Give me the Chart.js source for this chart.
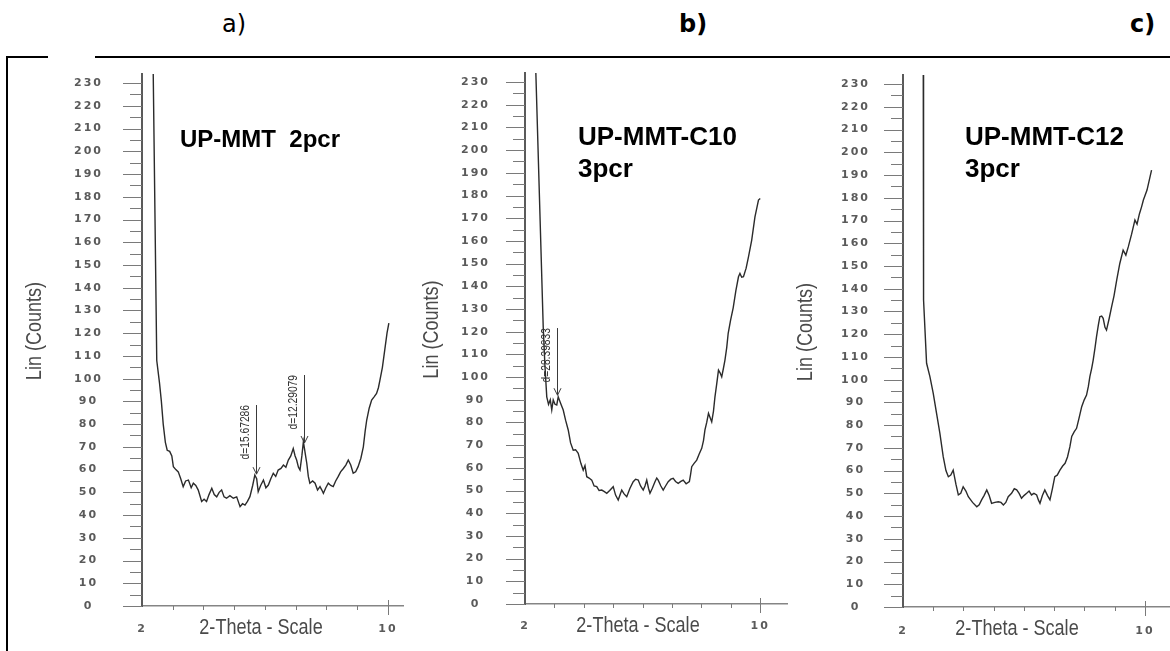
<!DOCTYPE html>
<html>
<head>
<meta charset="utf-8">
<title>XRD UP-MMT</title>
<script src="https://cdn.jsdelivr.net/npm/chart.js@4.4.1/dist/chart.umd.min.js"></script>
<style>
    html, body { margin: 0; padding: 0; background: #fff; }
    body { position: relative; width: 1170px; height: 651px; overflow: hidden; }
    canvas { position: absolute; top: 60px; }
    #chartA { left: 10px; }
    #chartB { left: 405px; }
    #chartC { left: 790px; }
    .frame { position: absolute; background: #000; }
    .tag { position: absolute; top: 12px; font: 24px/24px "DejaVu Sans", sans-serif; color: #000; }
</style>
</head>
<body>
<div class="frame" style="left:7px; top:56px; width:41px; height:2px;"></div>
<div class="frame" style="left:95px; top:56px; width:1075px; height:2px;"></div>
<div class="frame" style="left:6px; top:56px; width:2px; height:595px;"></div>
<div class="tag" style="left:222px;">a)</div>
<div class="tag" style="left:679px; font-weight:bold;">b)</div>
<div class="tag" style="left:1130px; font-weight:bold;">c)</div>

<canvas id="chartA" width="395" height="591"></canvas>
<canvas id="chartB" width="385" height="591"></canvas>
<canvas id="chartC" width="380" height="591"></canvas>

<script>
// 2-theta (deg) and intensity (counts)
const thetaA = [2.36, 2.48, 2.57, 2.63, 2.69, 2.76, 2.82, 2.90, 2.97, 3.02, 3.10, 3.18, 3.26, 3.34, 3.42, 3.51, 3.60, 3.67, 3.75, 3.83,
    3.94, 4.02, 4.10, 4.18, 4.27, 4.35, 4.43, 4.51, 4.59, 4.67, 4.75, 4.86, 4.97, 5.08, 5.19, 5.27, 5.35, 5.43, 5.51, 5.60,
    5.67, 5.73, 5.78, 5.86, 5.95, 6.03, 6.11, 6.19, 6.27, 6.35, 6.43, 6.52, 6.60, 6.68, 6.76, 6.84, 6.92, 6.98, 7.03, 7.09,
    7.14, 7.20, 7.25, 7.31, 7.36, 7.41, 7.46, 7.55, 7.63, 7.71, 7.79, 7.85, 7.90, 7.98, 8.06, 8.14, 8.22, 8.30, 8.38, 8.46,
    8.55, 8.63, 8.71, 8.79, 8.87, 8.95, 9.03, 9.12, 9.20, 9.26, 9.31, 9.39, 9.47, 9.55, 9.63, 9.69, 9.74, 9.82, 9.90, 9.97, 10.03];
const countsA = [240, 108, 98, 90, 80, 72, 68.5, 68, 66, 61.3, 60, 59, 56, 52.5, 55, 55.4, 52, 54, 53, 51,
    46, 47, 46, 49, 51.8, 49, 48, 50, 51, 48, 47.4, 48.5, 47.4, 48, 43.7, 45, 44.4, 46, 48.1, 53,
    57.6, 56, 50.3, 53, 55.4, 52, 53.2, 56, 58.4, 57, 59.8, 60.5, 62, 61, 64.2, 66, 69.3, 66, 64.2, 61,
    59.8, 66, 72.3, 67, 62.8, 57, 54, 55, 54, 51, 52.5, 51, 49.6, 52, 54, 53, 52.5, 55, 56.9, 59,
    60.5, 62, 64.2, 62, 58.4, 59, 61.3, 65, 70, 77, 81.8, 87, 90.6, 92, 93.5, 96, 99.4, 105, 113, 120, 124.4];

const thetaB = [2.36, 2.62, 2.68, 2.74, 2.80, 2.86, 2.91, 2.96, 3.02, 3.08, 3.13, 3.21, 3.30, 3.38, 3.47, 3.55, 3.64, 3.72, 3.81, 3.90,
    3.98, 4.04, 4.10, 4.18, 4.27, 4.35, 4.44, 4.52, 4.61, 4.70, 4.78, 4.88, 5.00, 5.08, 5.17, 5.23, 5.29, 5.37, 5.46, 5.57,
    5.68, 5.76, 5.85, 5.93, 6.02, 6.08, 6.14, 6.20, 6.25, 6.33, 6.42, 6.48, 6.53, 6.62, 6.70, 6.78, 6.87, 6.96, 7.04, 7.12,
    7.21, 7.30, 7.38, 7.48, 7.59, 7.63, 7.67, 7.75, 7.84, 7.92, 8.01, 8.07, 8.12, 8.18, 8.24, 8.30, 8.35, 8.41, 8.46, 8.52,
    8.58, 8.63, 8.69, 8.75, 8.80, 8.86, 8.91, 8.99, 9.08, 9.17, 9.26, 9.31, 9.37, 9.43, 9.52, 9.60, 9.71, 9.82, 9.94, 10.00];
const countsB = [238, 122, 104.5, 91.3, 88, 90, 85.5, 89.9, 88, 87.7, 91.3, 88.5, 85.5, 81, 76.7, 71, 67.8, 68, 66.4, 62,
    59, 61, 56.1, 55.5, 54.6, 52, 51.7, 50, 50.2, 49.5, 48.8, 50, 51.7, 48, 45.8, 48, 50.2, 48.5, 47.3, 51,
    53.9, 55, 54.6, 52, 50.2, 52, 54.6, 51, 48.8, 51, 53.9, 55.5, 54.6, 52, 50.2, 52, 53.9, 55, 55.4, 54,
    53.2, 54, 54.6, 53, 53.9, 57, 60.5, 62, 63.4, 66, 68.6, 72, 76.7, 80, 84, 82, 80.3, 85, 91.3, 97,
    103.1, 102, 100.1, 104, 107.5, 113, 119.3, 125, 130.5, 138, 144.2, 145.7, 144, 144.2, 148, 153, 160.4, 170.6, 178, 178.7];

const thetaC = [2.67, 2.67, 2.69, 2.78, 2.89, 3.00, 3.11, 3.22, 3.33, 3.42, 3.50, 3.58, 3.66, 3.75, 3.83, 3.91, 3.99, 4.08, 4.16, 4.30,
    4.44, 4.52, 4.60, 4.68, 4.77, 4.85, 4.93, 5.04, 5.15, 5.24, 5.32, 5.40, 5.48, 5.59, 5.68, 5.76, 5.84, 5.92, 6.00, 6.09,
    6.17, 6.25, 6.33, 6.42, 6.48, 6.53, 6.61, 6.69, 6.78, 6.86, 6.94, 7.02, 7.10, 7.19, 7.28, 7.36, 7.44, 7.52, 7.58, 7.66,
    7.74, 7.82, 7.91, 7.99, 8.07, 8.13, 8.18, 8.24, 8.29, 8.35, 8.40, 8.46, 8.51, 8.57, 8.62, 8.68, 8.73, 8.82, 8.90, 8.98,
    9.07, 9.17, 9.28, 9.37, 9.45, 9.56, 9.67, 9.74, 9.82, 9.89, 9.95, 10.07, 10.22];
const countsC = [238, 170, 135, 107.2, 101.3, 94, 85.2, 76.4, 66.1, 60, 57.3, 58, 60.2, 54, 49.3, 50, 52.9, 51, 48.5, 46,
    44.1, 45, 47.1, 49, 51.5, 49, 45.6, 46, 46.3, 46, 44.9, 46, 48.5, 50, 52, 51.5, 50, 47.8, 49, 50,
    51, 49.3, 50, 49.3, 47, 45.6, 49, 51.5, 49, 47.1, 52, 57.3, 58, 60.2, 62, 63.2, 66, 70.5, 75, 77,
    78.6, 83, 88.1, 91, 93.2, 97, 101.3, 105, 108.6, 114, 118.9, 124, 127.7, 128, 127, 123, 121.8, 127, 132.1, 137,
    144, 151.1, 157, 154.8, 158.4, 164, 170.2, 168.4, 173, 176, 179, 183.4, 192.2];

// marked reflections: 2-theta, arrow tip, line top (counts), label
const peaksA = [
    { theta: 5.71, tip: 58, top: 88.4, label: 'd=15.67286' },
    { theta: 7.27, tip: 71.7, top: 101.6, label: 'd=12.29079' }
];
const peaksB = [
    { theta: 3.09, tip: 92, top: 121.6, label: 'd=28.39833' }
];
const peaksC = [];

const xTickLabels = [2, 10];
const yMaxLabel = 230;

// Arial-Narrow look: Liberation Sans squeezed horizontally
function narrowText(ctx, text, x, y, size, align, angle) {
    ctx.save();
    ctx.translate(x, y);
    if (angle) ctx.rotate(angle);
    ctx.scale(0.82, 1);
    ctx.font = size + 'px "Liberation Sans", Arial, sans-serif';
    ctx.textAlign = align;
    ctx.textBaseline = 'middle';
    ctx.fillText(text, 0, 0);
    ctx.restore();
}

// extra marks drawn with the chart scales: minor ticks, sample name, arrows, axis titles
const panelDecor = {
    id: 'panelDecor',
    beforeDraw(chart) {
        chart.ctx.letterSpacing = '2px';
    },
    afterDraw(chart, args, opts) {
        const { ctx, chartArea: area } = chart;
        const x = chart.scales.x, y = chart.scales.y;
        ctx.letterSpacing = '0px';
        ctx.save();

        ctx.strokeStyle = '#7a7a7a';
        ctx.lineWidth = 1;
        for (let v = 0; v <= yMaxLabel; v += 5) {
            const py = Math.round(y.getPixelForValue(v)) + 0.5;
            const len = v % 10 === 0 ? 19 : 12;
            ctx.beginPath();
            ctx.moveTo(area.left - len, py);
            ctx.lineTo(area.left, py);
            ctx.stroke();
        }
        for (let v = 3; v <= 10; v++) {
            const px = Math.round(x.getPixelForValue(v)) + 0.5;
            ctx.beginPath();
            ctx.moveTo(px, v === 10 ? area.bottom - 6 : area.bottom);
            ctx.lineTo(px, area.bottom + (v === 10 ? 9 : 4));
            ctx.stroke();
        }

        // sample name
        ctx.fillStyle = '#000';
        ctx.font = 'bold ' + opts.nameSize + 'px "Liberation Sans", Arial, sans-serif';
        ctx.textAlign = 'left';
        ctx.textBaseline = 'alphabetic';
        opts.name.forEach(function(line, i) {
            ctx.fillText(line, area.left + opts.nameX, area.top + opts.nameY + i * 32);
        });

        // axis titles
        ctx.fillStyle = '#4a4a4a';
        narrowText(ctx, '2-Theta - Scale', area.left + opts.titleX, area.bottom + 22, 22, 'center', 0);
        narrowText(ctx, 'Lin (Counts)', area.left - opts.yTitleX, (area.top + area.bottom) / 2 - 9, 22, 'center', -Math.PI / 2);

        // peak markers
        ctx.strokeStyle = '#3a3a3a';
        ctx.fillStyle = '#333';
        opts.peaks.forEach(function(p) {
            const px = Math.round(x.getPixelForValue(p.theta)) + 0.5;
            const yTop = y.getPixelForValue(p.top);
            const yTip = y.getPixelForValue(p.tip);
            ctx.beginPath();
            ctx.moveTo(px, yTop);
            ctx.lineTo(px, yTip);
            ctx.moveTo(px - 3.5, yTip - 7);
            ctx.lineTo(px, yTip);
            ctx.lineTo(px + 3.5, yTip - 7);
            ctx.stroke();
            narrowText(ctx, p.label, px - 11, yTop, 12.5, 'right', -Math.PI / 2);
        });
        ctx.restore();
    }
};

function makePanel(id, theta, counts, cfg) {
    const points = theta.map(function(t, i) { return { x: t, y: counts[i] }; });
    return new Chart(document.getElementById(id), {
        type: 'line',
        data: {
            datasets: [{
                data: points,
                borderColor: '#2b2b2b',
                borderWidth: 1.4,
                pointRadius: 0,
                tension: 0,
                fill: false
            }]
        },
        options: {
            responsive: false,
            animation: false,
            events: [],
            layout: { padding: { left: 0, right: cfg.padRight, top: cfg.padTop, bottom: 0 } },
            plugins: {
                legend: { display: false },
                tooltip: { enabled: false },
                title: { display: false },
                panelDecor: {
                    name: cfg.name,
                    nameSize: cfg.nameSize,
                    nameX: cfg.nameX,
                    nameY: cfg.nameY,
                    titleX: cfg.titleX,
                    yTitleX: cfg.yTitleX,
                    peaks: cfg.peaks
                }
            },
            scales: {
                x: {
                    type: 'linear',
                    min: 2,
                    max: cfg.xMax,
                    afterFit: function(scale) { scale.height = cfg.xAxisH; },
                    border: { display: true, color: '#858585', width: 1.5 },
                    grid: { display: true, drawOnChartArea: false, drawTicks: true, tickLength: cfg.xLabelGap, color: 'rgba(0,0,0,0)' },
                    ticks: {
                        stepSize: 1,
                        includeBounds: false,
                        autoSkip: false,
                        maxRotation: 0,
                        padding: 0,
                        color: '#5a5a5a',
                        font: { family: '"DejaVu Sans", sans-serif', size: 11, weight: 'bold' },
                        callback: function(v) { return xTickLabels.indexOf(v) >= 0 ? String(v) : ''; }
                    }
                },
                y: {
                    min: 0,
                    max: 234,
                    afterFit: function(scale) { scale.width = cfg.yAxisW; },
                    border: { display: true, color: '#5a5a5a', width: 2 },
                    grid: { display: true, drawOnChartArea: false, drawTicks: true, tickLength: cfg.yLabelGap, color: 'rgba(0,0,0,0)' },
                    ticks: {
                        stepSize: 10,
                        includeBounds: false,
                        padding: 0,
                        crossAlign: 'center',
                        color: '#5a5a5a',
                        font: { family: '"DejaVu Sans", sans-serif', size: 11, weight: 'bold' }
                    },
                    title: { display: false }
                }
            }
        },
        plugins: [panelDecor]
    });
}

makePanel('chartA', thetaA, countsA, {
    padTop: 14, padRight: 2, yAxisW: 132, xAxisH: 45, xMax: 10.49,
    yLabelGap: 42, xLabelGap: 17,
    name: ['UP-MMT  2pcr'], nameSize: 24, nameX: 38, nameY: 73, titleX: 119, yTitleX: 107,
    peaks: peaksA
});
makePanel('chartB', thetaB, countsB, {
    padTop: 13, padRight: 3, yAxisW: 120, xAxisH: 47, xMax: 10.91,
    yLabelGap: 38, xLabelGap: 16,
    name: ['UP-MMT-C10', '3pcr'], nameSize: 26, nameX: 53, nameY: 72, titleX: 113, yTitleX: 93,
    peaks: peaksB
});
makePanel('chartC', thetaC, countsC, {
    padTop: 15, padRight: 0, yAxisW: 113, xAxisH: 44, xMax: 10.83,
    yLabelGap: 36, xLabelGap: 18,
    name: ['UP-MMT-C12', '3pcr'], nameSize: 26, nameX: 62, nameY: 70, titleX: 114, yTitleX: 97,
    peaks: peaksC
});
</script>
</body>
</html>
